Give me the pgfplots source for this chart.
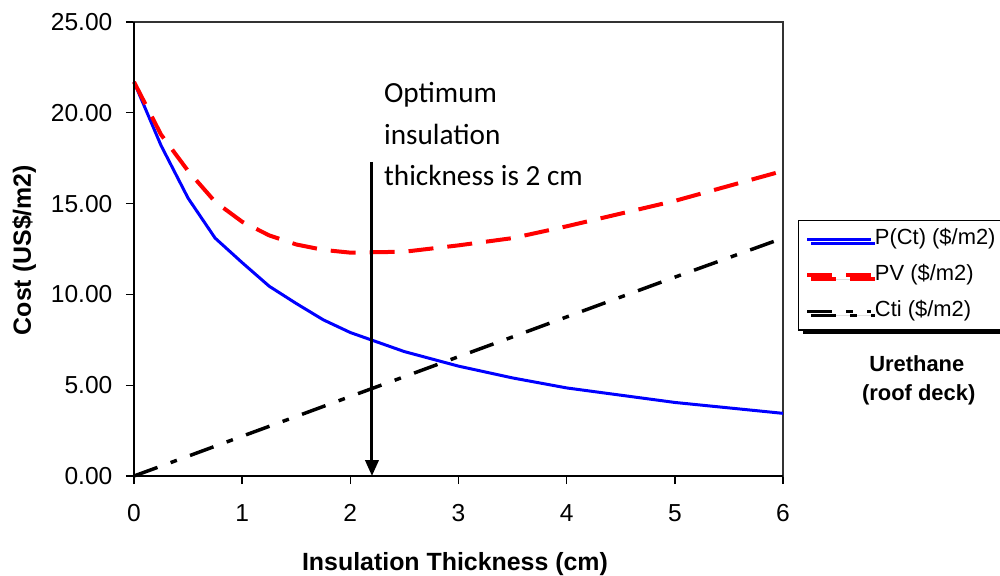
\documentclass[border=0pt]{standalone}
\usepackage{pgfplots}
\pgfplotsset{compat=1.18}
\usepackage{fontspec}
\setmainfont{Liberation Sans}
\newfontfamily\calib{Carlito}
\usetikzlibrary{arrows.meta,shadows}

\begin{document}
\begin{tikzpicture}
\begin{axis}[
  name=ax, scale only axis, width=486.75bp, height=340.5bp,
  xmin=0, xmax=6, ymin=0, ymax=25,
  xtick={0,1,...,6}, ytick={0,5,...,25},
  tick align=outside, tick pos=left, major tick length=6bp,
  tick style={black, line width=1bp},
  axis line style={draw=black!80, line width=1bp},
  /pgf/number format/assume math mode=true,
  tick label style={font=\fontsize{18.5}{21}\selectfont},
  xticklabel style={inner sep=0pt, anchor=north, yshift=-15bp},
  yticklabel style={inner sep=0pt, anchor=east, xshift=-10bp, /pgf/number format/fixed, /pgf/number format/fixed zerofill, /pgf/number format/precision=2},
  clip=false,
  legend style={at={(1.0231,0.5639)}, anchor=north west, draw=black, line width=1.1bp, fill=white,
    font=\fontsize{16.5}{18}\selectfont,
    drop shadow={shadow xshift=3bp, shadow yshift=-3bp, fill=black, opacity=1},
    inner xsep=5bp, inner ysep=5bp, row sep=9bp,
    nodes={text height=12bp, text depth=4bp, inner ysep=1bp, inner xsep=1.2bp}},
  legend cell align=left,
  legend image code/.code={\draw[#1] (0bp,0bp) -- (48bp,0bp);},
]
\addplot[blue, line width=2.25bp, line join=round] coordinates {
 (0,21.7) (0.25,18.2) (0.5,15.3) (0.75,13.1) (1,11.75) (1.25,10.45) (1.5,9.5) (1.75,8.6)
 (2,7.9) (2.5,6.85) (3,6.05) (3.5,5.4) (4,4.85) (5,4.05) (6,3.45)};
\addlegendentry{P(Ct) (\$/m2)}
\addplot[red, line width=3bp, line join=round, dash pattern=on 18.75bp off 10.5bp] coordinates {
 (0,21.7) (0.25,18.8) (0.5,16.8) (0.75,15.1) (1,14.0) (1.25,13.25) (1.5,12.75) (1.75,12.45)
 (2,12.3) (2.5,12.35) (3,12.7) (3.5,13.1) (4,13.75) (5,15.15) (6,16.8)};
\addlegendentry{PV (\$/m2)}
\addplot[black, line width=2.6bp, line join=round, dash pattern=on 18.75bp off 10.5bp on 5bp off 10.5bp] coordinates {
 (0,0) (0.5,1.09) (1,2.19) (1.5,3.28) (2,4.38) (2.5,5.47) (3,6.57) (3.5,7.66) (4,8.76) (5,10.95) (6,13.1)};
\addlegendentry{Cti (\$/m2)}
\draw[black, line width=1.6bp] (rel axis cs:0,1) -- (rel axis cs:0,0) -- (rel axis cs:1,0);
\draw[black, line width=2.25bp, -{Triangle[width=10bp,length=12bp]}] (axis cs:2.2,17.3) -- (axis cs:2.2,0);
\node[anchor=base west, inner sep=0pt, font=\calib\fontsize{22}{26}\selectfont] at (axis cs:2.31,20.54) {Optimum};
\node[anchor=base west, inner sep=0pt, font=\calib\fontsize{22}{26}\selectfont] at (axis cs:2.31,18.28) {insulation};
\node[anchor=base west, inner sep=0pt, font=\calib\fontsize{22}{26}\selectfont] at (axis cs:2.31,16.02) {thickness is 2 cm};
\node[anchor=base, inner sep=0pt, font=\bfseries\fontsize{16.5}{18}\selectfont] at (axis cs:7.237,5.78) {Urethane};
\node[anchor=base, inner sep=0pt, font=\bfseries\fontsize{16.5}{18}\selectfont] at (axis cs:7.255,4.185) {(roof deck)};
\end{axis}
\node[anchor=base, inner sep=0pt, font=\bfseries\fontsize{18.75}{20}\selectfont] at ([xshift=240.75bp, yshift=-70.5bp]ax.south west) {Insulation Thickness (cm)};
\node[rotate=90, anchor=base, inner sep=0pt, font=\bfseries\fontsize{18.75}{20}\selectfont] at ([xshift=-77.25bp, yshift=169.5bp]ax.south west) {Cost (US\$/m2)};
\pgfresetboundingbox
\useasboundingbox ([xshift=-100.5bp, yshift=-75bp]ax.south west) rectangle ++(750bp,432bp);
\end{tikzpicture}
\end{document}
